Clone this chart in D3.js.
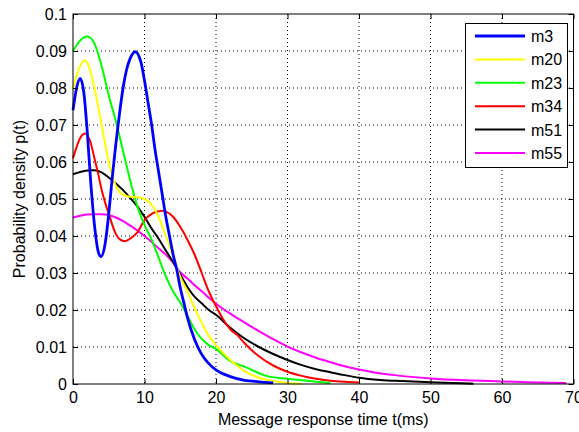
<!DOCTYPE html>
<html><head><meta charset="utf-8">
<script src="https://cdn.jsdelivr.net/npm/d3@7"></script>
<style>
body{margin:0;background:#fff;}
svg text{font-family:"Liberation Sans",Arial,sans-serif;}
</style></head>
<body><svg id="c" width="579" height="432"></svg>
<script>
const seriesNames = ["m3","m20","m23","m34","m51","m55"];
const seriesColors = ["#0000ff","#ffff00","#00ff00","#ff0000","#000000","#ff00ff"];
const xTicks = [0,10,20,30,40,50,60,70];
const yTicks = [0,0.01,0.02,0.03,0.04,0.05,0.06,0.07,0.08,0.09,0.1];
const yTickLabels = ["0","0.01","0.02","0.03","0.04","0.05","0.06","0.07","0.08","0.09","0.1"];

const m3 = [[0,0.074],[0.5,0.080],[1,0.0826],[1.5,0.079],[2,0.068],[2.5,0.054],[3,0.043],[3.5,0.036],[3.9,0.0344],[4.5,0.038],[5,0.046],[5.5,0.056],[6,0.065],[6.5,0.073],[7,0.080],[7.5,0.085],[8,0.088],[8.7,0.0898],[9.5,0.087],[10,0.082],[10.5,0.076],[11,0.070],[11.5,0.063],[12,0.057],[12.5,0.051],[13,0.045],[13.5,0.040],[14,0.035],[14.5,0.031],[15,0.026],[15.5,0.022],[16,0.018],[17,0.012],[18,0.008],[19,0.0055],[20,0.0038],[22,0.002],[24,0.001],[26,0.0006],[28,0.0003]];
const m20 = [[0,0.0796],[0.8,0.085],[1.6,0.0876],[2.2,0.086],[3,0.080],[4,0.070],[5,0.060],[6,0.0535],[7,0.0512],[8,0.0506],[9,0.0505],[10,0.050],[11,0.0485],[12,0.045],[13,0.040],[14,0.0345],[15,0.029],[16,0.025],[17,0.0205],[18,0.0165],[19,0.013],[20,0.0105],[22,0.0065],[24,0.0035],[26,0.0017],[28,0.0008],[30,0.0003],[32,0.0001]];
const m23 = [[0,0.090],[1,0.0928],[2,0.0939],[3,0.092],[4,0.086],[5,0.078],[6,0.071],[7,0.063],[8,0.055],[9,0.048],[10,0.043],[11,0.039],[12,0.034],[13,0.029],[14,0.025],[15,0.022],[16,0.0185],[17,0.0148],[18,0.0122],[19,0.0105],[20,0.0095],[22,0.0062],[24,0.0047],[27,0.0022],[30,0.0014],[33,0.0008],[36,0.0003]];
const m34 = [[0,0.061],[0.5,0.064],[1,0.0665],[1.7,0.0677],[2.5,0.065],[3,0.061],[3.5,0.057],[4,0.0525],[4.5,0.049],[5,0.046],[5.5,0.043],[6,0.0405],[6.6,0.039],[7.3,0.0386],[8,0.0393],[9,0.041],[10,0.0443],[11,0.046],[12,0.0467],[12.5,0.0468],[13,0.0466],[14,0.0452],[15,0.0425],[16,0.039],[17,0.035],[18,0.030],[19,0.025],[20,0.021],[21,0.0175],[22,0.0148],[23,0.0132],[24,0.011],[26,0.0075],[28,0.005],[30,0.0033],[32,0.0022],[34,0.0014],[36,0.0009],[38,0.0006],[40,0.0004]];
const m51 = [[0,0.0567],[1,0.0573],[2,0.0577],[3,0.0578],[4,0.0572],[5,0.0558],[6,0.0542],[7,0.0524],[8,0.0503],[9,0.048],[10,0.0452],[11,0.042],[12,0.0392],[13,0.036],[14,0.033],[15,0.0296],[16,0.0262],[17,0.0236],[18,0.0218],[19,0.020],[20,0.0187],[22,0.0152],[24,0.0123],[26,0.010],[28,0.0081],[30,0.0065],[32,0.0051],[34,0.004],[36,0.0032],[38,0.0024],[40,0.0017],[43,0.0011],[46,0.0008],[50,0.0005],[53,0.0003],[56,0.0001]];
const m55 = [[0,0.045],[1,0.0455],[2,0.0458],[3,0.0459],[4,0.0459],[5,0.0457],[6,0.045],[7,0.044],[8,0.0428],[9,0.0415],[10,0.040],[11,0.0384],[12,0.0366],[13,0.0349],[14,0.0328],[15,0.0302],[16,0.0285],[17,0.0267],[18,0.0251],[19,0.0233],[20,0.0217],[22,0.019],[24,0.0166],[26,0.0143],[28,0.0121],[30,0.0101],[32,0.0085],[34,0.0071],[36,0.0059],[38,0.0048],[40,0.0039],[42,0.0032],[45,0.0024],[50,0.0015],[55,0.001],[60,0.0007],[65,0.0004],[69,0.0003]];
const seriesData = [m3,m20,m23,m34,m51,m55];

const svg = d3.select("#c");
const L=73, R=573.5, T=14, B=384;
const x = d3.scaleLinear().domain([0,70]).range([L,R]);
const y = d3.scaleLinear().domain([0,0.1]).range([B,T]);
const FS = 16;

// grid
const g = svg.append("g");
g.selectAll(".gx").data(xTicks.slice(1,-1)).enter().append("line")
  .attr("x1",d=>x(d)).attr("x2",d=>x(d)).attr("y1",T).attr("y2",B)
  .attr("stroke","#000").attr("stroke-width",1).attr("stroke-dasharray","1,3");
g.selectAll(".gy").data(yTicks.slice(1,-1)).enter().append("line")
  .attr("x1",L).attr("x2",R).attr("y1",d=>y(d)).attr("y2",d=>y(d))
  .attr("stroke","#000").attr("stroke-width",1).attr("stroke-dasharray","1,3");

// curves
const line = d3.line().x(d=>x(d[0])).y(d=>y(d[1])).curve(d3.curveMonotoneX);
const order = [5,4,3,2,1,0];
order.forEach(i=>{
  svg.append("path").datum(seriesData[i]).attr("d",line)
    .attr("fill","none").attr("stroke",seriesColors[i])
    .attr("stroke-width", i===0?2.8:2).attr("stroke-linejoin","round");
});

// axes
const ax = d3.axisBottom(x).tickValues(xTicks).tickSize(-5).tickPadding(8).tickFormat(d3.format("d"));
const ay = d3.axisLeft(y).tickValues(yTicks).tickSize(-5).tickPadding(6).tickFormat((d,i)=>yTickLabels[i]);
const gx = svg.append("g").attr("transform",`translate(0,${B})`).call(ax);
const gy = svg.append("g").attr("transform",`translate(${L},0)`).call(ay);
const gx2 = svg.append("g").attr("transform",`translate(0,${T})`).call(d3.axisTop(x).tickValues(xTicks).tickSize(-5).tickFormat(""));
const gy2 = svg.append("g").attr("transform",`translate(${R},0)`).call(d3.axisRight(y).tickValues(yTicks).tickSize(-5).tickFormat(""));
[gx,gy,gx2,gy2].forEach(a=>{
  a.select(".domain").remove();
  a.selectAll("line").attr("stroke","#000");
  a.selectAll("text").attr("font-size",FS).attr("fill","#000").attr("font-family","Liberation Sans, Arial, sans-serif");
});
svg.append("rect").attr("x",L).attr("y",T).attr("width",R-L).attr("height",B-T)
  .attr("fill","none").attr("stroke","#000").attr("stroke-width",1);

// axis titles
svg.append("text").attr("x",(L+R)/2).attr("y",425).attr("text-anchor","middle")
  .attr("font-size",FS).text("Message response time t(ms)");
svg.append("text").attr("transform",`translate(25,${(T+B)/2}) rotate(-90)`).attr("text-anchor","middle")
  .attr("font-size",FS).text("Probability density p(t)");

// legend
const lg = svg.append("g");
lg.append("rect").attr("x",465.5).attr("y",23.5).attr("width",102).attr("height",144)
  .attr("fill","#fff").attr("stroke","#000").attr("stroke-width",1);
seriesNames.forEach((n,i)=>{
  const yy = 36 + i*23.4;
  lg.append("line").attr("x1",475).attr("x2",525).attr("y1",yy).attr("y2",yy)
    .attr("stroke",seriesColors[i]).attr("stroke-width",i===0?2.8:2);
  lg.append("text").attr("x",531).attr("y",yy+6).attr("font-size",FS).text(n);
});
</script></body></html>
